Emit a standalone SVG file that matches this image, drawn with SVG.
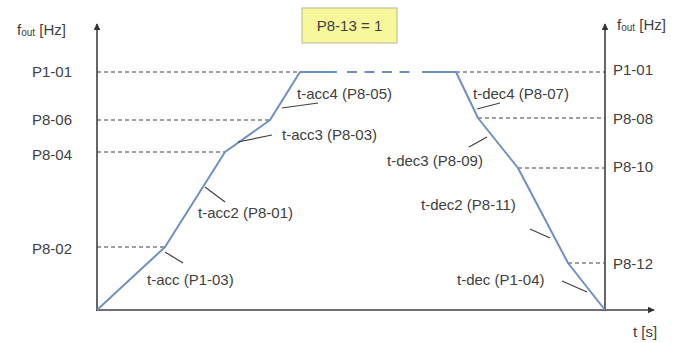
<svg xmlns="http://www.w3.org/2000/svg" width="678" height="343" viewBox="0 0 678 343">
<defs>
<marker id="arr" viewBox="0 0 10 10" refX="9" refY="5" markerWidth="7" markerHeight="7" markerUnits="userSpaceOnUse" orient="auto">
<path d="M0,0 L10,5 L0,10 z" fill="#333"/>
</marker>
<style>
text{font-family:"Liberation Sans",Arial,sans-serif;fill:#404040;font-size:15px}
.axis{stroke:#404040;stroke-width:1.6;fill:none}
.grid{stroke:#404040;stroke-width:1.2;stroke-dasharray:4,3;fill:none}
.curve{stroke:#6f8fc2;stroke-width:2;fill:none;stroke-linejoin:round}
.lead{stroke:#404040;stroke-width:1.2;fill:none}
.sub{font-size:10px}
</style>
</defs>
<rect width="678" height="343" fill="#fff"/>
<g id="axes">
<line class="axis" x1="97" y1="311" x2="97" y2="24" marker-end="url(#arr)"/>
<line class="axis" x1="605" y1="311" x2="605" y2="24" marker-end="url(#arr)"/>
<line class="axis" x1="96" y1="310" x2="654" y2="310" marker-end="url(#arr)"/>
<text x="17" y="35">f<tspan class="sub" dy="1">out</tspan><tspan dy="-1"> [Hz]</tspan></text>
<text x="617" y="30">f<tspan class="sub" dy="1">out</tspan><tspan dy="-1"> [Hz]</tspan></text>
<text x="633" y="337">t [s]</text>
</g>
<g id="levels-left">
<line class="grid" x1="97" y1="72" x2="300" y2="72"/>
<line class="grid" x1="97" y1="120" x2="270" y2="120"/>
<line class="grid" x1="97" y1="152" x2="225" y2="152"/>
<line class="grid" x1="97" y1="247" x2="165" y2="247"/>
<text x="72" y="77" text-anchor="end">P1-01</text>
<text x="72" y="125" text-anchor="end">P8-06</text>
<text x="72" y="160" text-anchor="end">P8-04</text>
<text x="72" y="254" text-anchor="end">P8-02</text>
</g>
<g id="levels-right">
<line class="grid" x1="456" y1="72" x2="605" y2="72"/>
<line class="grid" x1="478" y1="118" x2="605" y2="118"/>
<line class="grid" x1="518" y1="168" x2="605" y2="168"/>
<line class="grid" x1="568" y1="263" x2="605" y2="263"/>
<text x="613" y="75">P1-01</text>
<text x="613" y="124">P8-08</text>
<text x="613" y="172">P8-10</text>
<text x="613" y="269">P8-12</text>
</g>
<g id="profile">
<polyline class="curve" points="97,310 165,247 225,152 270,120 300,72 337,72"/>
<line class="curve" x1="347" y1="72" x2="411" y2="72" stroke-dasharray="10,7.5"/>
<polyline class="curve" points="422,72 456,72 478,118 518,168 568,263 605,310"/>
</g>
<g id="leaders">
<line class="lead" x1="282" y1="108" x2="318" y2="103"/>
<line class="lead" x1="238" y1="142" x2="272" y2="135"/>
<line class="lead" x1="205" y1="187" x2="225" y2="202"/>
<line class="lead" x1="165" y1="252" x2="183" y2="263"/>
<line class="lead" x1="477" y1="109" x2="500" y2="103"/>
<line class="lead" x1="469" y1="147" x2="487" y2="137"/>
<line class="lead" x1="530" y1="229" x2="550" y2="238"/>
<line class="lead" x1="562" y1="281" x2="587" y2="292"/>
</g>
<g id="labels">
<text x="297" y="99">t-acc4 (P8-05)</text>
<text x="282" y="140">t-acc3 (P8-03)</text>
<text x="198" y="218">t-acc2 (P8-01)</text>
<text x="147" y="285">t-acc (P1-03)</text>
<text x="473" y="99">t-dec4 (P8-07)</text>
<text x="387" y="166">t-dec3 (P8-09)</text>
<text x="421" y="210">t-dec2 (P8-11)</text>
<text x="457" y="285">t-dec (P1-04)</text>
</g>
<g id="mode-box">
<rect x="302" y="8" width="95" height="35" fill="#f7f79c" stroke="#c4c49a" stroke-width="1.2"/>
<text x="349.5" y="31" text-anchor="middle">P8-13 = 1</text>
</g>
</svg>
